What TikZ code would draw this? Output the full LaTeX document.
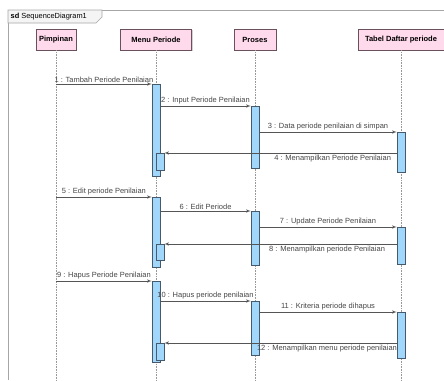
\documentclass[tikz,border=0pt]{standalone}
\usepackage{fontspec}
\setmainfont{Liberation Sans}
\usepackage{xcolor}
\usepackage{tikz}
\usetikzlibrary{arrows,shadows}
\definecolor{boxfill}{RGB}{255,218,236}
\definecolor{boxline}{RGB}{105,80,90}
\definecolor{actfill}{RGB}{160,215,250}
\definecolor{actline}{RGB}{70,90,110}
\definecolor{msgline}{RGB}{85,85,85}
\definecolor{msgtext}{RGB}{70,70,70}
\definecolor{tabfill}{RGB}{244,244,244}
\tikzset{msg/.style = {->,> = latex',draw=msgline,line width=0.6pt}}

\begin{document}
\begin{tikzpicture}[x=1pt,y=-1pt,
    lane/.style={rectangle,draw=boxline,fill=boxfill,line width=0.6pt,minimum height=21pt,
        inner sep=0pt,font=\fontsize{7.5}{8}\selectfont\bfseries,
        drop shadow={shadow xshift=1.2pt,shadow yshift=-1.2pt,fill=black!30,opacity=0.6}},
    act/.style={rectangle,draw=actline,fill=actfill,line width=0.5pt,minimum width=8pt,inner sep=0pt,anchor=north},
    life/.style={draw=gray!80,densely dotted,line width=0.6pt},
    every node/.append style={text=black}]
    \useasboundingbox (0,0) rectangle (444,380);

    % frame
    \coordinate (bottom) at (0,380);
    \draw[gray!70,line width=0.6pt] (8,380) -- (8,10) -- (444,10);
    \draw[gray!70,line width=0.6pt,fill=tabfill] (8,10) -- (8,23) -- (96,23) -- (102,17) -- (102,10) -- cycle;
    \node[anchor=west,inner sep=0pt,font=\fontsize{7.4}{8}\selectfont] (frame) at (10.5,16.5) {\textbf{sd} SequenceDiagram1};

    % lanes
    \node[lane,minimum width=40pt] (pim) at (56,39.5) {Pimpinan};
    \node[lane,minimum width=71pt] (menu) at (156,39.5) {Menu Periode};
    \node[lane,minimum width=42pt] (pro) at (255,39.5) {Proses};
    \node[lane,minimum width=86pt] (tab) at (401,39.5) {Tabel Daftar periode};

    \foreach \l in {pim,menu,pro,tab}
        \draw[life] (\l.south) -- (\l.south |- bottom);

    % activations
    \node[act,minimum height=92pt] (mA1) at (156,84) {};
    \node[act,minimum height=17pt] (mN1) at (160,153) {};
    \node[act,minimum height=70pt] (mA2) at (156,197) {};
    \node[act,minimum height=16pt] (mN2) at (160,244) {};
    \node[act,minimum height=81pt] (mA3) at (156,281) {};
    \node[act,minimum height=17pt] (mN3) at (160,343) {};
    \node[act,minimum height=62pt] (pA1) at (255,106) {};
    \node[act,minimum height=54pt] (pA2) at (255,211) {};
    \node[act,minimum height=54pt] (pA3) at (255,301) {};
    \node[act,minimum height=40pt] (tA1) at (401,132) {};
    \node[act,minimum height=37pt] (tA2) at (401,227) {};
    \node[act,minimum height=46pt] (tA3) at (401,312) {};

    % messages
    \path[every node/.style={font=\fontsize{7.5}{8}\selectfont,text=msgtext,inner sep=1.5pt}]
        (pim |- mA1.north) edge[msg] node[above] {1 : Tambah Periode Penilaian} (mA1.north west)
        (mA1.east |- pA1.north) edge[msg] node[above] {2 : Input Periode Penilaian} (pA1.north west)
        (pA1.east |- tA1.north) edge[msg] node[above] {3 : Data periode penilaian di simpan} (tA1.north west)
        (tA1.west |- mN1.north) edge[msg] node[pos=0,below left,xshift=-4pt] {4 : Menampilkan Periode Penilaian} (mN1.north east)
        (pim |- mA2.north) edge[msg] node[above] {5 : Edit periode Penilaian} (mA2.north west)
        (mA2.east |- pA2.north) edge[msg] node[above] {6 : Edit Periode} (pA2.north west)
        (pA2.east |- tA2.north) edge[msg] node[above] {7 : Update Periode Penilaian} (tA2.north west)
        (tA2.west |- mN2.north) edge[msg] node[pos=0,below left,xshift=-10pt] {8 : Menampilkan periode Penilaian} (mN2.north east)
        (pim |- mA3.north) edge[msg] node[above] {9 : Hapus Periode Penilaian} (mA3.north west)
        (mA3.east |- pA3.north) edge[msg] node[above] {10 : Hapus periode penilaian} (pA3.north west)
        (pA3.east |- tA3.north) edge[msg] node[above] {11 : Kriteria periode dihapus} (tA3.north west)
        (tA3.west |- mN3.north) edge[msg] node[pos=0,below left,xshift=2pt] {12 : Menampilkan menu periode penilaian} (mN3.north east)
        ;
\end{tikzpicture}
\end{document}
